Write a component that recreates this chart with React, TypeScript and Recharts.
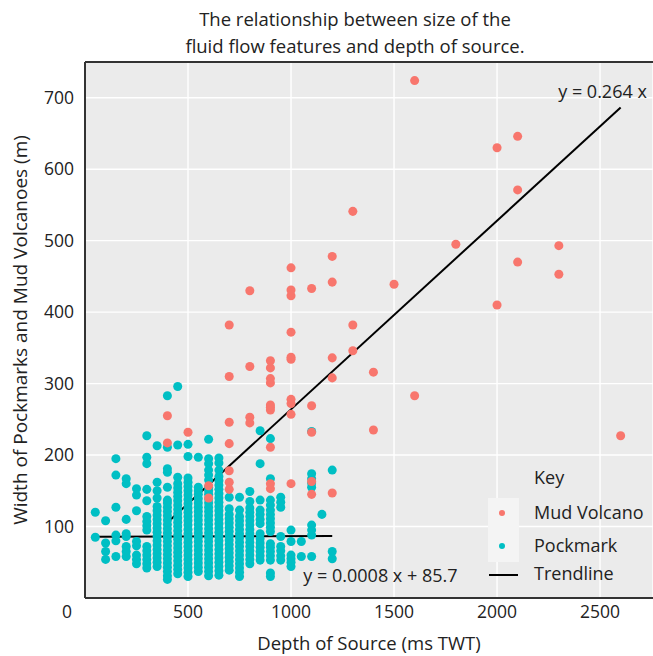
import { ScatterChart, Scatter, XAxis, YAxis, ZAxis, CartesianGrid, ReferenceLine, ReferenceDot, Label } from 'recharts';

// depth of source (ms TWT) columns for pockmarks, widths (m) per column
const pockmarkDepths = [50, 100, 150, 200, 250, 300, 350, 400, 450, 500, 550, 600, 650, 700, 750, 800, 850, 900, 950, 1000, 1050, 1100, 1150, 1200];
const pockmarkWidths = [
    [85, 120],
    [54, 65, 77, 108],
    [58, 80, 88, 127, 172, 195],
    [58, 65, 72, 86, 90, 110, 160, 167],
    [48, 54, 60, 73, 79, 122, 144, 153],
    [42, 48, 54, 60, 66, 72, 95, 101, 107, 114, 136, 152, 188, 197, 227],
    [44, 50, 56, 62, 68, 74, 80, 86, 92, 98, 104, 110, 116, 122, 128, 140, 150, 162, 213],
    [26, 31, 37, 43, 49, 55, 61, 67, 73, 79, 85, 91, 97, 103, 109, 115, 121, 127, 133, 137, 155, 176, 181, 211, 283],
    [34, 40, 46, 52, 58, 64, 70, 76, 82, 88, 94, 100, 106, 112, 118, 124, 130, 136, 142, 148, 154, 160, 169, 214, 296],
    [30, 36, 42, 48, 54, 60, 66, 72, 78, 84, 90, 96, 102, 108, 114, 120, 126, 132, 138, 144, 150, 156, 162, 168, 198, 215],
    [37, 43, 49, 55, 61, 67, 73, 79, 85, 91, 97, 103, 109, 115, 121, 127, 133, 139, 145, 150, 155, 197],
    [31, 37, 43, 49, 55, 61, 67, 73, 79, 85, 91, 97, 103, 109, 115, 121, 127, 133, 139, 145, 150, 155, 165, 172, 179, 188, 195, 222],
    [32, 38, 44, 50, 56, 62, 68, 74, 80, 86, 92, 98, 104, 110, 116, 122, 128, 134, 140, 146, 152, 158, 164, 170, 179, 189, 196],
    [39, 45, 51, 57, 63, 69, 75, 81, 87, 93, 99, 105, 111, 117, 125, 141],
    [30, 36, 42, 48, 54, 60, 66, 72, 78, 84, 90, 96, 102, 108, 114, 123, 141],
    [48, 54, 60, 66, 72, 78, 84, 90, 96, 102, 108, 114, 120, 126, 135, 149],
    [53, 59, 65, 71, 77, 83, 90, 104, 110, 117, 123, 137, 188, 234],
    [30, 35, 53, 59, 65, 71, 76, 93, 99, 105, 111, 117, 123, 130, 137, 167, 223],
    [53, 59, 66, 72, 86, 127, 134, 141],
    [44, 50, 55, 60, 79, 95],
    [58, 79],
    [58, 88, 95, 102, 155, 161, 167, 174, 233],
    [117],
    [55, 65, 179],
];

const mudDepths = [400, 500, 600, 700, 800, 900, 1000, 1100, 1200, 1300, 1400, 1500, 1600, 1800, 2000, 2100, 2300, 2600];
const mudWidths = [
    [217, 255],
    [232],
    [140, 157],
    [152, 162, 178, 216, 246, 310, 382],
    [245, 253, 324, 430],
    [153, 160, 211, 263, 267, 270, 301, 307, 322, 332],
    [160, 257, 272, 278, 334, 337, 372, 423, 431, 462],
    [145, 163, 232, 269, 433],
    [147, 308, 336, 442, 478],
    [346, 382, 541],
    [235, 316],
    [439],
    [283, 724],
    [495],
    [410, 630],
    [470, 571, 646],
    [453, 493],
    [227],
];

// fitted trendlines (end points)
const mudTrend = [{ x: 400, y: 105.6 }, { x: 2600, y: 686.4 }];
const pockTrend = [{ x: 50, y: 85.7 }, { x: 1200, y: 86.7 }];

const xTicks = [0, 500, 1000, 1500, 2000, 2500];
const yTicks = [100, 200, 300, 400, 500, 600, 700];

const FONT = '"Open Sans", sans-serif';
const MUD = '#F8766D';
const POCK = '#00BFC4';

const toPoints = (depths: number[], widths: number[][]) =>
    depths.flatMap((d, i) => widths[i].map((w) => ({ depth: d, width: w })));

const pockmarks = toPoints(pockmarkDepths, pockmarkWidths);
const mudVolcanoes = toPoints(mudDepths, mudWidths);

function XTick(props: any) {
    const { x, y, payload } = props;
    const shift = payload.value === 0 ? -18 : 0;
    return (
        <text x={x + shift} y={y} dy="0.71em" textAnchor="middle" fill="#222" fontSize={17.5} fontFamily={FONT}>
            {payload.value}
        </text>
    );
}

// legend drawn over the panel, bottom right
function KeyBox() {
    return (
        <svg width={171} height={130} style={{ position: 'absolute', left: 482, top: 462 }}>
            <text x={52} y={16} dy="0.35em" fontSize={18} fontFamily={FONT} fill="#222">Key</text>
            <rect x={6} y={36} width={31} height={64} fill="#F4F4F4" />
            <circle cx={20} cy={51} r={3} fill={MUD} />
            <circle cx={20} cy={84} r={3} fill={POCK} />
            <line x1={7} x2={36} y1={113} y2={113} stroke="#000" strokeWidth={2} />
            <text x={52} y={51} dy="0.35em" fontSize={18} fontFamily={FONT} fill="#222">Mud Volcano</text>
            <text x={52} y={84} dy="0.35em" fontSize={18} fontFamily={FONT} fill="#222">Pockmark</text>
            <text x={52} y={112} dy="0.35em" fontSize={18} fontFamily={FONT} fill="#222">Trendline</text>
        </svg>
    );
}

export default function App() {
    return (
        <div style={{ position: 'absolute', left: 0, top: 0, width: 653, height: 656, background: '#fff', fontFamily: FONT }}>
            <div style={{ position: 'absolute', left: 105, width: 500, top: 5, textAlign: 'center', fontSize: 18.5, lineHeight: '27px', color: '#222' }}>
                The relationship between size of the
                <br />
                fluid flow features and depth of source.
            </div>
            <ScatterChart width={653} height={656} margin={{ top: 62, right: 0, bottom: 0, left: 0 }}>
                <CartesianGrid fill="#EBEBEB" stroke="#FFFFFF" strokeWidth={1.4} />
                <XAxis
                    type="number"
                    dataKey="depth"
                    domain={[0, 2757]}
                    ticks={xTicks}
                    allowDataOverflow
                    height={58}
                    tickSize={0}
                    tickMargin={8}
                    tick={<XTick />}
                    axisLine={{ stroke: '#333', strokeWidth: 2 }}
                >
                    <Label value="Depth of Source (ms TWT)" position="insideBottom" offset={6} fontSize={18.5} fontFamily={FONT} fill="#222" />
                </XAxis>
                <YAxis
                    type="number"
                    dataKey="width"
                    domain={[0, 750]}
                    ticks={yTicks}
                    allowDataOverflow
                    width={85}
                    tickSize={0}
                    tickMargin={11}
                    tick={{ fontSize: 17.5, fontFamily: FONT, fill: '#222' }}
                    axisLine={{ stroke: '#333', strokeWidth: 2 }}
                >
                    <Label value="Width of Pockmarks and Mud Volcanoes (m)" angle={-90} position="insideLeft" offset={20} style={{ textAnchor: 'middle' }} fontSize={19} fontFamily={FONT} fill="#222" />
                </YAxis>
                <ZAxis range={[48, 48]} />
                <ReferenceLine y={750} stroke="#333" strokeWidth={2} />
                <Scatter name="Pockmark" data={pockmarks} fill={POCK} isAnimationActive={false} />
                <Scatter name="Mud Volcano" data={mudVolcanoes} fill={MUD} isAnimationActive={false} />
                <ReferenceLine segment={pockTrend} stroke="#000" strokeWidth={2} />
                <ReferenceLine segment={mudTrend} stroke="#000" strokeWidth={2} />
                <ReferenceDot x={2512} y={708} r={0} label={{ value: 'y = 0.264 x', position: 'center', fontSize: 18, fontFamily: FONT, fill: '#222' }} />
                <ReferenceDot x={1434} y={31} r={0} label={{ value: 'y = 0.0008 x + 85.7', position: 'center', fontSize: 18, fontFamily: FONT, fill: '#222' }} />
            </ScatterChart>
            <KeyBox />
        </div>
    );
}
